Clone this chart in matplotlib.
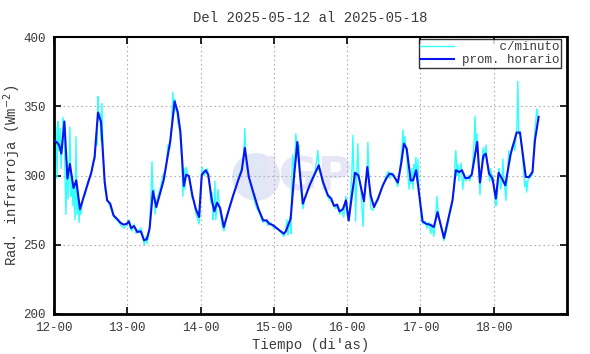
import matplotlib
matplotlib.use("Agg")
import matplotlib.pyplot as plt
from matplotlib.patches import Ellipse
import numpy as np

# ---- data (hours since 2025-05-12 00:00) ----
hourly_t = [0.0, 1.0, 1.7, 2.4, 3.4, 4.4, 5.2, 6.4, 7.3, 8.5, 10.2, 12.2, 13.3, 14.4, 15.4,
            16.6, 17.4, 18.4, 19.5, 20.6, 21.7, 22.8, 23.9, 24.5, 25.3, 26.2, 27.3, 28.4,
            29.5, 30.4, 31.3, 32.4, 33.5, 35.9, 38.1, 39.5, 40.5, 41.4, 42.5, 43.3, 44.2,
            45.3, 46.4, 47.5, 48.4, 49.7, 50.5, 51.6, 52.5, 53.4, 54.4, 55.6, 57.1, 58.7,
            60.3, 61.5, 62.5, 63.8, 65.3, 66.9, 68.5, 69.6, 70.5, 71.8, 73.4, 75.3, 75.9,
            77.5, 78.7, 79.7, 80.5, 81.5, 83.7, 86.7, 88.1, 89.7, 90.8, 91.7, 92.7, 93.5,
            94.6, 95.6, 96.5, 97.7, 98.6, 99.7, 101.5, 102.6, 103.7, 104.8, 106.1, 107.7,
            108.8, 109.9, 111.0, 112.6, 113.7, 114.6, 115.5, 116.8, 117.6, 118.6, 119.7,
            120.7, 121.8, 123.1, 124.4, 125.6, 127.7, 130.5, 131.6, 132.7, 133.6, 134.7,
            135.8, 136.8, 138.6, 139.5, 140.6, 141.4, 142.5, 143.6, 144.7, 145.6, 146.7,
            147.8, 149.5, 151.5, 152.6, 154.5, 155.6, 156.7, 157.5, 158.7]
hourly_v = [325.4, 323.8, 321.8, 315.8, 339.0, 297.8, 308.3, 291.0, 296.5, 275.6, 288.0, 302.0,
            313.4, 345.4, 338.7, 295.3, 282.0, 279.7, 271.2, 268.8, 266.0, 264.5, 265.2, 266.9,
            262.0, 263.5, 259.2, 259.7, 253.2, 254.0, 261.6, 288.6, 277.2, 296.5, 325.4, 353.6,
            345.9, 331.4, 292.4, 300.6, 299.6, 285.7, 276.1, 270.0, 300.6, 303.8, 300.6, 283.3,
            274.1, 280.4, 276.5, 262.8, 274.1, 285.7, 296.5, 303.8, 319.9, 298.9, 287.6, 276.1,
            267.6, 267.6, 265.2, 264.0, 261.1, 258.0, 259.7, 268.8, 301.4, 324.2, 302.5, 279.7,
            292.9, 307.4, 295.3, 285.7, 283.3, 278.0, 279.0, 274.1, 275.6, 282.1, 267.6, 288.0,
            302.0, 300.1, 281.4, 306.1, 285.7, 277.2, 283.3, 292.9, 297.8, 301.4, 300.6, 294.9,
            308.6, 323.0, 319.4, 296.5, 296.5, 303.8, 284.5, 266.9, 265.2, 264.5, 262.8, 273.6,
            254.8, 282.1, 303.8, 302.5, 303.8, 298.2, 298.2, 300.6, 324.2, 294.9, 314.1, 315.8,
            301.4, 297.8, 283.3, 302.0, 297.8, 292.9, 315.1, 331.0, 331.0, 298.9, 298.9, 302.5,
            325.4, 342.3]

minute_t = [0.0, 0.3, 0.65, 1.0, 1.3, 1.6, 2.0, 2.3, 2.6, 2.9, 3.3, 3.6, 3.9, 4.3, 4.6, 4.9,
            5.2, 5.6, 5.9, 6.2, 6.5, 6.9, 7.2, 7.5, 7.9, 8.2, 8.5, 8.8, 9.5, 10.2, 11.1, 12.1,
            12.8, 13.4, 13.8, 14.1, 14.4, 14.7, 15.1, 15.4, 15.7, 16.0, 16.4, 16.7, 17.4, 18.3,
            19.6, 21.0, 21.9, 22.9, 23.9, 24.6, 24.9, 25.5, 26.2, 26.9, 27.5, 28.5, 29.1, 29.5,
            30.1, 30.4, 31.1, 31.4, 32.1, 32.4, 32.7, 33.1, 33.7, 34.7, 35.7, 36.7, 37.3, 38.0,
            38.6, 38.9, 39.3, 39.6, 39.9, 40.3, 40.6, 41.2, 41.9, 42.2, 42.6, 42.9, 43.2, 43.9,
            44.5, 45.2, 45.8, 46.5, 47.1, 47.5, 47.8, 48.1, 48.5, 49.1, 49.8, 50.1, 50.8, 51.4,
            51.7, 52.1, 52.4, 52.7, 53.0, 53.7, 54.3, 55.0, 55.3, 55.7, 56.3, 57.0, 58.3, 59.6,
            60.9, 61.6, 62.2, 62.5, 62.9, 63.5, 64.8, 66.1, 67.4, 68.4, 69.4, 70.0, 71.0, 72.0,
            73.3, 74.6, 75.3, 75.9, 76.3, 76.6, 76.9, 77.3, 77.6, 77.9, 78.2, 78.6, 78.9, 79.2,
            79.6, 79.9, 80.2, 80.5, 81.2, 81.5, 82.2, 83.2, 84.4, 85.4, 86.1, 86.4, 86.8, 87.4,
            88.4, 89.4, 90.4, 91.3, 92.3, 92.9, 93.6, 94.3, 94.9, 95.6, 95.9, 96.2, 96.6, 96.9,
            97.2, 97.5, 97.9, 98.2, 98.5, 98.8, 99.2, 99.5, 99.8, 100.5, 101.2, 101.5, 102.1,
            102.5, 102.8, 103.1, 103.5, 103.8, 104.5, 105.1, 106.1, 107.1, 108.1, 108.8, 109.4,
            110.0, 110.7, 111.3, 112.0, 112.6, 113.3, 113.9, 114.3, 114.6, 114.9, 115.3, 115.6,
            115.9, 116.3, 116.6, 116.9, 117.2, 117.6, 117.9, 118.2, 118.5, 118.9, 119.2, 119.5,
            119.9, 120.2, 120.8, 121.5, 122.2, 122.8, 123.4, 123.7, 124.4, 125.0, 125.4, 125.7,
            126.3, 127.0, 127.7, 128.3, 129.0, 129.6, 130.3, 131.0, 131.3, 131.6, 132.0, 132.3,
            132.6, 132.9, 133.3, 133.6, 133.9, 134.2, 134.9, 135.6, 136.2, 136.9, 137.2, 137.6,
            137.9, 138.2, 138.5, 138.9, 139.2, 139.5, 139.8, 140.2, 140.5, 140.8, 141.1, 141.5,
            141.8, 142.1, 142.4, 142.7, 143.1, 143.4, 143.7, 144.1, 144.4, 144.7, 145.0, 145.4,
            145.7, 146.0, 146.3, 146.7, 147.0, 147.3, 147.6, 148.0, 148.3, 148.6, 148.9, 149.3,
            149.9, 150.6, 150.9, 151.3, 151.6, 151.9, 152.2, 152.6, 152.9, 153.2, 153.5, 153.9,
            154.2, 154.5, 154.8, 155.2, 155.5, 155.8, 156.2, 156.5, 156.8, 157.1, 157.5, 157.8,
            158.1, 158.4, 158.8]
minute_v = [338, 312, 335, 298, 339, 318, 334, 305, 322, 342, 335, 300, 272, 310, 283, 298,
            335, 285, 300, 278, 292, 268, 328, 272, 285, 266, 278, 272, 284, 286, 296, 300,
            310, 312, 330, 322, 357, 340, 345, 325, 352, 322, 300, 290, 283, 278,
            270, 267, 264, 262, 264, 268, 262, 260, 265, 258, 260, 262, 257, 250,
            256, 251, 258, 265, 310, 285, 290, 272, 283, 290, 300, 305, 322, 320,
            338, 360, 345, 355, 347, 347, 338, 332, 310, 285, 305, 290, 306, 300,
            295, 284, 282, 272, 268, 265, 272, 290, 306, 300, 302, 305, 298, 280,
            288, 268, 275, 296, 268, 290, 275, 265, 262, 260, 268, 274, 284, 292,
            302, 306, 318, 334, 310, 302, 290, 278, 272, 266, 268, 264, 266, 262,
            262, 258, 256, 260, 268, 257, 262, 270, 258, 300, 315, 298, 312, 330,
            320, 318, 322, 300, 282, 276, 284, 290, 298, 302, 312, 318, 304, 300,
            292, 286, 282, 280, 276, 278, 272, 276, 270, 285, 275, 270, 267, 278,
            290, 300, 329, 295, 300, 267, 305, 323, 300, 290, 263, 282, 298,
            300, 324, 300, 285, 276, 275, 280, 282, 290, 295, 300, 303,
            298, 302, 300, 296, 292, 305, 318, 333, 322, 328, 318, 312,
            300, 290, 300, 294, 305, 290, 308, 300, 313, 296, 312, 290,
            280, 270, 265, 267, 262, 266, 258, 265, 256, 270, 285, 276,
            268, 262, 253, 258, 265, 272, 278, 290, 310, 318, 300, 308,
            296, 304, 309, 298, 290, 300, 296, 300, 296, 302, 312, 325,
            343, 320, 330, 310, 300, 286, 300, 310, 320, 312, 318, 322,
            310, 305, 300, 296, 305, 296, 300, 290, 284, 278, 280, 295,
            305, 300, 290, 296, 312, 298, 292, 282, 295, 305, 318, 310,
            320, 324, 318, 328, 335, 368, 330, 332, 325, 320, 312, 300,
            292, 296, 288, 296, 300, 298, 302, 300, 304, 318, 332, 340,
            348, 344, 340]

day_labels = ["12-00", "13-00", "14-00", "15-00", "16-00", "17-00", "18-00"]
y_ticks = [200, 250, 300, 350, 400]

TXT = "#3a3a3a"
FONT = "Liberation Mono"

fig = plt.figure(figsize=(5.9, 3.54), dpi=100)
ax = fig.add_axes([54 / 590, 1 - 314 / 354, (567 - 54) / 590, (314 - 37) / 354])

# faint watermark (logo)
ax.add_patch(Ellipse((0.394, 0.495), 48 / 513, 48 / 277, transform=ax.transAxes,
                     facecolor="#e2e7f7", edgecolor="none", zorder=0))
ax.text((262 - 54) / 513, 0.49, "IGP", transform=ax.transAxes, fontsize=34,
        fontweight="bold", color="#e6e6f6", ha="left", va="center", zorder=0,
        family="DejaVu Sans")

ax.plot(np.array(minute_t) / 24.0, minute_v, color="#33ffff", lw=1.0,
        label="     c/minuto", zorder=2)
ax.plot(np.array(hourly_t) / 24.0, hourly_v, color="#0a14f0", lw=1.5,
        label="prom. horario", zorder=3)

ax.set_xlim(0, 7)
ax.set_ylim(200, 400)
ax.set_xticks(range(7))
ax.set_xticklabels(day_labels)
ax.set_yticks(y_ticks)

ax.grid(True, which="major", color="#b0b0b0", linestyle=(0, (1.5, 2.5)), lw=0.8)
ax.tick_params(which="both", direction="in", length=5, width=1.2, top=True, right=True,
               colors="black", labelcolor=TXT, labelsize=9, pad=6)
for lab in ax.get_xticklabels() + ax.get_yticklabels():
    lab.set_family(FONT)
for s in ax.spines.values():
    s.set_linewidth(1.5)
ax.spines["left"].set_linewidth(2)
ax.spines["bottom"].set_linewidth(2)
ax.spines["right"].set_linewidth(2)

ax.set_title("Del 2025-05-12 al 2025-05-18", family=FONT, fontsize=10, color=TXT, pad=11)
ax.set_xlabel("Tiempo (di'as)", family=FONT, fontsize=10, color=TXT)
ax.xaxis.set_label_coords(0.5, -0.088)
ax.set_ylabel("Rad. infrarroja (Wm$^{-2}$)", family=FONT, fontsize=10, color=TXT)
ax.yaxis.set_label_coords(-0.082, 0.5)
ax.yaxis.label.set_va("center")

leg = ax.legend(loc="upper right", bbox_to_anchor=(0.9885, 0.991), frameon=True, fancybox=False,
                prop={"family": FONT, "size": 9}, handlelength=2.7, borderpad=0.15,
                labelspacing=0.05, handletextpad=0.6, borderaxespad=0.0)
leg.get_frame().set_edgecolor("black")
leg.get_frame().set_linewidth(1.0)
for t in leg.get_texts():
    t.set_color(TXT)

fig.savefig("out.png", dpi=100)
